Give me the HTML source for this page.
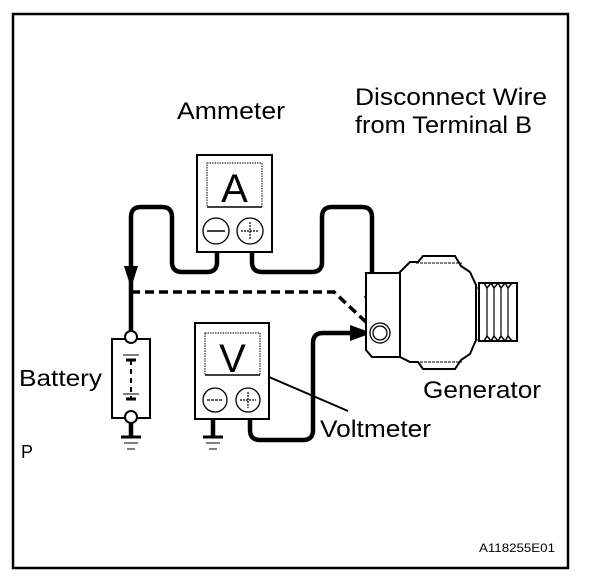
<!DOCTYPE html>
<html><head><meta charset="utf-8"><style>
html,body{margin:0;padding:0;background:#fff;}
svg{display:block;}
text{font-family:"Liberation Sans",Arial,sans-serif;fill:#000;}
</style></head><body>
<svg width="608" height="580" viewBox="0 0 608 580" xmlns="http://www.w3.org/2000/svg">
<rect x="13" y="14" width="555" height="554" fill="none" stroke="#000" stroke-width="2.5"/>

<text x="177" y="119" font-size="24" textLength="108" lengthAdjust="spacingAndGlyphs">Ammeter</text>
<text x="355" y="105" font-size="24" textLength="192" lengthAdjust="spacingAndGlyphs">Disconnect Wire</text>
<text x="355" y="133" font-size="24" textLength="177" lengthAdjust="spacingAndGlyphs">from Terminal B</text>
<text x="19" y="386" font-size="23" textLength="83" lengthAdjust="spacingAndGlyphs">Battery</text>
<text x="423" y="398" font-size="24" textLength="118" lengthAdjust="spacingAndGlyphs">Generator</text>
<text x="320" y="437" font-size="24" textLength="111" lengthAdjust="spacingAndGlyphs">Voltmeter</text>
<text x="21" y="458" font-size="18">P</text>
<text x="479" y="552" font-size="12" textLength="76" lengthAdjust="spacingAndGlyphs">A118255E01</text>

<rect x="197" y="155" width="75" height="97" fill="#fff" stroke="#000" stroke-width="2"/>
<rect x="207" y="163" width="55" height="44" fill="none" stroke="#000" stroke-width="1" stroke-dasharray="1.5,1"/>
<line x1="207" y1="207" x2="262" y2="207" stroke="#000" stroke-width="1.5"/>
<text x="234.5" y="202" font-size="40" text-anchor="middle">A</text>
<circle cx="216" cy="231" r="13" fill="none" stroke="#000" stroke-width="1.3"/>
<circle cx="250" cy="231" r="13" fill="none" stroke="#000" stroke-width="1.3"/>
<line x1="207" y1="231" x2="225" y2="231" stroke="#000" stroke-width="1.5"/>
<line x1="241" y1="231" x2="259" y2="231" stroke="#000" stroke-width="1.2" stroke-dasharray="2,1"/>
<line x1="250" y1="222" x2="250" y2="240" stroke="#000" stroke-width="1.2" stroke-dasharray="2,1"/>

<g fill="none" stroke="#000" stroke-width="4.5" stroke-linejoin="round">
<path d="M217 252 V262 Q217 272 207 272 H182 Q172 272 172 262 V217 Q172 207 162 207 H141 Q131 207 131 217 V337"/>
<path d="M252 252 V262 Q252 272 262 272 H312 Q322 272 322 262 V217 Q322 207 332 207 H362 Q372 207 372 217 V300"/>
<path d="M250 419 V430 Q250 440 260 440 H303 Q313 440 313 430 V343 Q313 333 323 333 H356"/>
<line x1="213" y1="419" x2="213" y2="437"/>
<line x1="131" y1="417" x2="131" y2="437"/>
</g>
<polygon points="124,266 138,266 131,288" fill="#000"/>
<polygon points="364,296 380,296 372,320" fill="#000"/>
<polygon points="350,325 350,341 372,333" fill="#000"/>
<path d="M131 292 H334 L368 324" fill="none" stroke="#000" stroke-width="3.5" stroke-dasharray="9,5"/>

<g stroke="#000">
<line x1="121" y1="437" x2="141" y2="437" stroke-width="3"/>
<line x1="124" y1="443" x2="138" y2="443" stroke-width="1"/>
<line x1="127" y1="449" x2="135" y2="449" stroke-width="1"/>
<line x1="203" y1="437" x2="223" y2="437" stroke-width="3"/>
<line x1="206" y1="443" x2="220" y2="443" stroke-width="1"/>
<line x1="209" y1="449" x2="217" y2="449" stroke-width="1"/>
</g>

<rect x="112" y="339" width="38" height="79" fill="#fff" stroke="#000" stroke-width="2"/>
<circle cx="131" cy="337" r="6" fill="#fff" stroke="#000" stroke-width="2"/>
<circle cx="131" cy="417" r="6" fill="#fff" stroke="#000" stroke-width="2"/>
<g stroke="#000">
<line x1="123" y1="355" x2="139" y2="355" stroke-width="1"/>
<line x1="126" y1="360" x2="136" y2="360" stroke-width="3"/>
<line x1="131" y1="360" x2="131" y2="400" stroke-width="2" stroke-dasharray="5,4"/>
<line x1="123" y1="394" x2="139" y2="394" stroke-width="1"/>
<line x1="126" y1="399" x2="136" y2="399" stroke-width="3"/>
</g>

<rect x="195" y="323" width="74" height="96" fill="#fff" stroke="#000" stroke-width="2"/>
<rect x="205" y="333" width="55" height="42" fill="none" stroke="#000" stroke-width="1" stroke-dasharray="1.5,1"/>
<line x1="205" y1="375" x2="260" y2="375" stroke="#000" stroke-width="1.5"/>
<text x="232.5" y="372" font-size="40" text-anchor="middle">V</text>
<circle cx="215" cy="400" r="12" fill="none" stroke="#000" stroke-width="1.3"/>
<circle cx="248" cy="400" r="12" fill="none" stroke="#000" stroke-width="1.3"/>
<line x1="207" y1="400" x2="223" y2="400" stroke="#000" stroke-width="1.2" stroke-dasharray="3,1"/>
<line x1="240" y1="400" x2="256" y2="400" stroke="#000" stroke-width="1.2" stroke-dasharray="2,1"/>
<line x1="248" y1="392" x2="248" y2="408" stroke="#000" stroke-width="1.2" stroke-dasharray="2,1"/>
<line x1="269" y1="377" x2="348" y2="411" stroke="#000" stroke-width="2"/>

<path d="M366 273 H400 V357 H372 L366 350 Z" fill="#fff" stroke="#000" stroke-width="2"/>
<path d="M400 272 L410 262 H418 L423 256 H455 L461 266 L470 272 L476 285 V340 L470 354 L461 360 L455 369 H423 L418 362 H410 L400 357 Z" fill="#fff" stroke="#000" stroke-width="2"/>
<line x1="416" y1="263" x2="462" y2="263" stroke="#000" stroke-width="1" stroke-dasharray="3,1"/>
<line x1="416" y1="362" x2="462" y2="362" stroke="#000" stroke-width="1" stroke-dasharray="3,1"/>
<path d="M476 288 H480 V340 H476" fill="none" stroke="#000" stroke-width="1" stroke-dasharray="2,1"/>
<rect x="479" y="283" width="38" height="58" fill="#fff" stroke="#000" stroke-width="2"/>
<path d="M484 283 L487 288 L491 283 L494 288 L498 283 L501 288 L505 283 L508 288 L512 283" fill="none" stroke="#000" stroke-width="1.5"/>
<path d="M484 341 L487 336 L491 341 L494 336 L498 341 L501 336 L505 341 L508 336 L512 341" fill="none" stroke="#000" stroke-width="1.5"/>
<g stroke="#000" stroke-width="1.2">
<line x1="487" y1="288" x2="487" y2="336"/><line x1="494" y1="288" x2="494" y2="336"/>
<line x1="501" y1="288" x2="501" y2="336"/><line x1="508" y1="288" x2="508" y2="336"/>
</g>
<circle cx="380" cy="333" r="10" fill="#fff" stroke="#000" stroke-width="1.3"/>
<circle cx="380" cy="333" r="7" fill="none" stroke="#000" stroke-width="1.3"/>
</svg>
</body></html>
